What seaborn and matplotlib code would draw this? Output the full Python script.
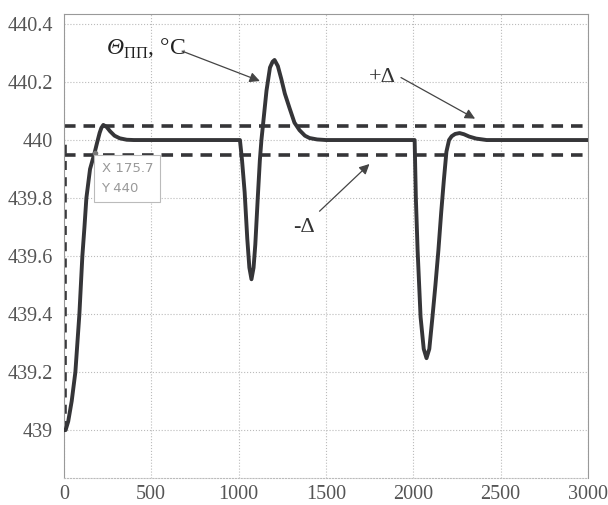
import numpy as np
import pandas as pd
import matplotlib
matplotlib.use("Agg")
import matplotlib.pyplot as plt
import seaborn as sns

# --- data ------------------------------------------------------------------
t_sec = [
    0, 10, 25, 45, 66, 89, 106, 118, 129, 150, 175.7, 190, 205, 215, 226,
    245, 265, 290, 320, 360, 400, 1008,
    1020, 1035, 1050, 1062, 1074, 1086, 1096, 1110, 1122, 1131, 1143, 1160,
    1180, 1195, 1206, 1225, 1245, 1265, 1292, 1320, 1349, 1380, 1406, 1450,
    1500, 2008,
    2015, 2025, 2042, 2060, 2076, 2092, 2110, 2127, 2144, 2160, 2175, 2190,
    2205, 2220, 2240, 2265, 2290, 2320, 2360, 2420, 3000,
]
theta_pp = [
    439.0, 439.0, 439.03, 439.10, 439.2, 439.4, 439.6, 439.7, 439.8, 439.9,
    439.955, 439.99, 440.025, 440.042, 440.052,
    440.045, 440.03, 440.015, 440.006, 440.001, 440.0, 440.0,
    439.93, 439.82, 439.66, 439.56, 439.52, 439.56, 439.64, 439.8, 439.93,
    440.0, 440.07, 440.17, 440.25, 440.27, 440.276, 440.255, 440.21, 440.16,
    440.11, 440.06, 440.034, 440.015, 440.007, 440.002, 440.0, 440.0,
    439.8, 439.62, 439.39, 439.28, 439.248, 439.28, 439.39, 439.5, 439.62,
    439.75, 439.86, 439.96, 440.0, 440.013, 440.021, 440.024, 440.02,
    440.012, 440.005, 440.0, 440.0,
]
setpoint = 440.0
delta = 0.05
tip_t, tip_val = 175.7, 439.955

x_ticks = [0, 500, 1000, 1500, 2000, 2500, 3000]
y_ticks = [439.0, 439.2, 439.4, 439.6, 439.8, 440.0, 440.2, 440.4]

df = pd.DataFrame({"t": t_sec, "theta": theta_pp})

sns.set_style("white")
serif = ["Liberation Serif", "DejaVu Serif"]
plt.rcParams["font.family"] = serif
plt.rcParams["mathtext.fontset"] = "custom"
# rm -> italic serif (for the Greek letter), sf -> upright serif (subscript)
plt.rcParams["mathtext.rm"] = "Liberation Serif:italic"
plt.rcParams["mathtext.sf"] = "Liberation Serif"

fig = plt.figure(figsize=(6.08, 5.05), dpi=100)
ax = fig.add_axes([0.105, 0.0535, 0.862, 0.9185])

line_col = "#353538"
dash = (0, (3.2, 2.2))

# tolerance band and setpoint step
ax.axhline(setpoint + delta, color=line_col, lw=2.6, ls=dash, zorder=2)
ax.axhline(setpoint - delta, color=line_col, lw=2.6, ls=dash, zorder=2)
ax.vlines(t_sec[0] + 8, theta_pp[0], setpoint, color=line_col, lw=2.6,
          linestyles=(0, (2.5, 2.0)), zorder=2)

sns.lineplot(data=df, x="t", y="theta", color=line_col, lw=2.8, ax=ax,
             zorder=3)

ax.set_xlim(0, 3000)
ax.set_ylim(438.835, 440.434)
ax.set_xticks(x_ticks)
ax.set_yticks(y_ticks)
ax.set_yticklabels([f"{v:g}" for v in y_ticks])
ax.set_xlabel("")
ax.set_ylabel("")
ax.tick_params(labelsize=14.5, labelcolor="#555555", direction="in",
               length=3, color="#aaaaaa")
ax.tick_params(axis="x", pad=5)
ax.tick_params(axis="y", pad=8)
for lab in ax.get_xticklabels() + ax.get_yticklabels():
    lab.set_fontfamily(serif)
ax.grid(True, color="#bbbbbb", ls=":", lw=0.8)
for side in ["top", "right", "left"]:
    ax.spines[side].set_color("#999999")
    ax.spines[side].set_linewidth(0.8)
ax.spines["bottom"].set_color("#bbbbbb")
ax.spines["bottom"].set_linestyle(":")

# annotations
arrow = dict(arrowstyle="-|>", color="#444444", lw=0.9, mutation_scale=15)
ax.text(240, 440.315, r"$\mathrm{Θ}_{\mathsf{ПП}}$, °C", fontsize=17,
        ha="left", va="center", color="#222222")
ax.annotate("", xy=(1137, 440.2), xytext=(662, 440.31), arrowprops=arrow)
ax.text(1825, 440.214, "+Δ", fontsize=16, ha="center", va="center",
        color="#333333")
ax.annotate("", xy=(2368, 440.069), xytext=(1916, 440.22), arrowprops=arrow)
ax.text(1377, 439.697, "-Δ", fontsize=16, ha="center", va="center",
        color="#333333")
ax.annotate("", xy=(1761, 439.924), xytext=(1452, 439.748), arrowprops=arrow)

# data tip
ax.plot([tip_t], [tip_val], "o", ms=3, color="#777777", zorder=4)
ax.text(tip_t + 40, tip_val - 0.03, f"X {tip_t:g}\nY {round(tip_val):g}",
        fontsize=9.5, family=["DejaVu Sans"], color="#999999", va="top",
        ha="left", linespacing=1.7, zorder=5,
        bbox=dict(boxstyle="square,pad=0.55", fc="white", ec="#bbbbbb",
                  lw=0.8))

fig.savefig("out.png", dpi=100)
